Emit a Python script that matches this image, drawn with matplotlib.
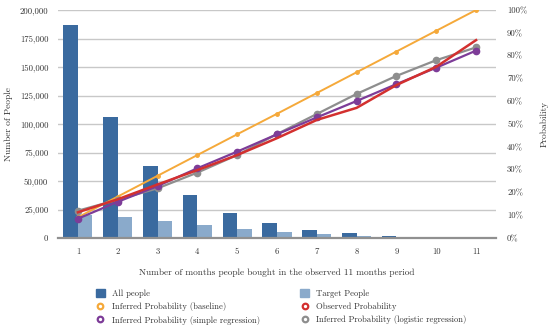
import matplotlib
matplotlib.use("Agg")
import matplotlib.pyplot as plt
from matplotlib.lines import Line2D
from matplotlib.patches import Patch
from matplotlib.ticker import FuncFormatter
import numpy as np

plt.rcParams['font.family'] = ['cmr10', 'DejaVu Serif']
plt.rcParams['axes.unicode_minus'] = False

months = [1, 2, 3, 4, 5, 6, 7, 8, 9, 10, 11]
all_people = [187000, 106500, 63400, 37700, 22200, 12900, 7000, 4100, 1750, 600, 200]
target_people = [20500, 18100, 15200, 11100, 7600, 5500, 3200, 2000, 1000, 400, 150]
p_baseline = [9.1, 18.2, 27.3, 36.4, 45.5, 54.5, 63.6, 72.7, 81.8, 90.9, 100.0]
p_observed = [11.3, 17.0, 23.5, 29.8, 36.4, 43.8, 51.8, 57.1, 67.1, 75.1, 86.8]
p_simple = [8.5, 15.9, 22.8, 30.6, 37.9, 45.5, 52.9, 60.1, 67.5, 74.7, 82.2]
p_logistic = [12.0, 16.8, 21.8, 28.7, 36.4, 45.6, 54.4, 63.2, 71.1, 78.0, 83.6]

c_dark = '#3A6A9F'
c_light = '#8AAACB'
c_orange = '#F5A93A'
c_red = '#D3302F'
c_purple = '#7D3C98'
c_gray = '#8E8E8E'

fig = plt.figure(figsize=(5.5, 3.27), dpi=100)
ax = fig.add_axes([0.1055, 0.272, 0.7963, 0.6974])
ax2 = ax.twinx()

x = np.array(months, dtype=float)
w = 0.365
ax.bar(x - w / 2, all_people, width=w, color=c_dark, zorder=2)
ax.bar(x + w / 2, target_people, width=w, color=c_light, zorder=2)
ax.set_ylim(0, 200000)
ax.set_xlim(0.5, 11.5)
ax.set_yticks(np.arange(0, 200001, 25000))
ax.yaxis.set_major_formatter(FuncFormatter(lambda v, p: f"{int(v):,}"))
ax.set_xticks(months)
ax.grid(axis='y', color='#C8C8C8', linewidth=1.0, zorder=0)
ax.set_axisbelow(True)
for s in ['top', 'left', 'right']:
    ax.spines[s].set_visible(False)
    ax2.spines[s].set_visible(False)
ax2.spines['bottom'].set_visible(False)
ax.spines['bottom'].set_color('#909090')
ax.spines['bottom'].set_linewidth(1.6)
ax.tick_params(axis='both', length=0, labelsize=6.3, pad=7, colors='#333333')
ax.set_ylabel('Number of People', fontsize=6.8, color='#333333', labelpad=5)
ax.set_xlabel('Number of months people bought in the observed 11 months period',
              fontsize=6.7, color='#333333', labelpad=9)

ax2.plot(x, p_baseline, color=c_orange, lw=1.4, marker='o', ms=2.5, zorder=3)
ax2.plot(x, p_logistic, color=c_gray, lw=1.6, marker='o', ms=4.5, zorder=3)
ax2.plot(x, p_simple, color=c_purple, lw=1.6, marker='o', ms=4.5, zorder=4)
ax2.plot(x, p_observed, color=c_red, lw=1.8, zorder=5)
ax2.set_ylim(0, 100)
ax2.set_yticks(np.arange(0, 101, 10))
ax2.yaxis.set_major_formatter(FuncFormatter(lambda v, p: f"{int(v)}%"))
ax2.tick_params(axis='y', length=0, labelsize=6.3, pad=8, colors='#333333')
ax2.set_ylabel('Probability', fontsize=6.8, color='#333333', labelpad=9)

def mk(c, label):
    return Line2D([], [], linestyle='none', marker='o', ms=4, mfc='white',
                  mec=c, mew=1.6, label=label)

handles = [
    Patch(color=c_dark, label='All people'),
    mk(c_orange, 'Inferred Probability (baseline)'),
    mk(c_purple, 'Inferred Probability (simple regression)'),
    Patch(color=c_light, label='Target People'),
    mk(c_red, 'Observed Probability'),
    mk(c_gray, 'Inferred Probability (logistic regression)'),
]
fig.legend(handles=handles, ncol=2, loc='upper left', bbox_to_anchor=(0.167, 0.128),
           frameon=False, fontsize=6.2, handlelength=1.0, handleheight=0.9,
           handletextpad=0.8, columnspacing=4.7, labelspacing=0.5,
           labelcolor='#333333', borderpad=0)

fig.savefig('out.png', dpi=100)
